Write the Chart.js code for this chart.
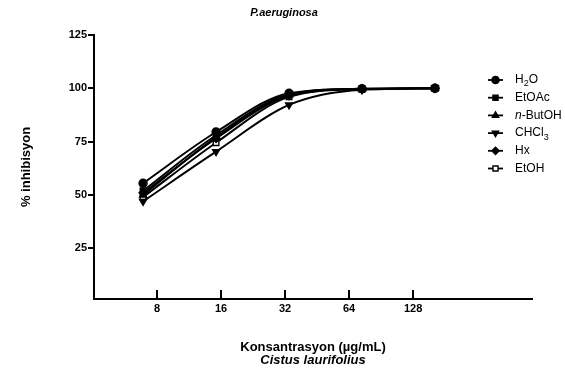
<!DOCTYPE html>
<html>
<head>
<meta charset="utf-8">
<script src="https://cdn.jsdelivr.net/npm/chart.js@4/dist/chart.umd.min.js"></script>
<style>
  html, body { margin: 0; padding: 0; background: #fff; }
  #wrap { width: 565px; height: 371px; }
</style>
</head>
<body>
<div id="wrap"><canvas id="chart" width="565" height="371"></canvas></div>
<script>
// concentrations (µg/mL) and % inhibition
const concentrations = [8, 16, 32, 64, 128];
const xTickValues = [8, 16, 32, 64, 128];
const yTickValues = [25, 50, 75, 100, 125];

const h2o    = [55.5, 79.5, 97.7, 99.8, 100];
const etoac  = [52.0, 78.0, 97.2, 99.8, 100];
const nbutoh = [50.0, 77.0, 96.8, 99.7, 100];
const chcl3  = [47.0, 70.3, 92.2, 99.3, 100];
const hx     = [51.0, 76.5, 96.5, 99.7, 100];
const etoh   = [49.0, 74.5, 96.0, 99.6, 100];

// '_' = next char subscript, '*...*' = italic
const seriesLabels = ['H_2O', 'EtOAc', '*n*-ButOH', 'CHCl_3', 'Hx', 'EtOH'];

const chartTitle = 'P.aeruginosa';
const yTitle = '% inhibisyon';
const xTitle = 'Konsantrasyon (µg/mL)';
const xSubTitle = 'Cistus laurifolius';

const FONT = '"Liberation Sans", Arial, sans-serif';
Chart.defaults.font.family = FONT;
Chart.defaults.color = '#000';

const MARKERS = [
  { style: 'circle', rot: 0, fill: '#000' },
  { style: 'rect', rot: 0, fill: '#000' },
  { style: 'triangle', rot: 0, fill: '#000' },
  { style: 'triangle', rot: 180, fill: '#000' },
  { style: 'rectRot', rot: 0, fill: '#000' },
  { style: 'rect', rot: 0, fill: '#fff' },
];

const seriesData = [h2o, etoac, nbutoh, chcl3, hx, etoh];

const datasets = seriesData.map((vals, i) => ({
  label: seriesLabels[i],
  data: vals.map((v, j) => ({ x: concentrations[j], y: v })),
  xAxisID: 'xd',
  borderColor: '#000',
  borderWidth: 1.9,
  pointStyle: MARKERS[i].style,
  pointRotation: MARKERS[i].rot,
  pointBackgroundColor: MARKERS[i].fill,
  pointBorderColor: '#000',
  pointBorderWidth: 1.4,
  pointRadius: 4,
  cubicInterpolationMode: 'monotone',
  fill: false,
}));

function parseLabel(s) {
  const segs = [];
  let italic = false;
  for (let i = 0; i < s.length; i++) {
    const c = s[i];
    if (c === '*') { italic = !italic; continue; }
    if (c === '_') { segs.push({ t: s[i + 1], sub: true, italic }); i++; continue; }
    segs.push({ t: c, sub: false, italic });
  }
  return segs;
}

function drawMarker(ctx, m, x, y) {
  if (Chart.helpers && Chart.helpers.drawPoint) {
    ctx.fillStyle = m.fill;
    ctx.strokeStyle = '#000';
    ctx.lineWidth = 1.4;
    Chart.helpers.drawPoint(ctx, { pointStyle: m.style, rotation: m.rot, radius: 3.6, borderWidth: 1.4 }, x, y);
  }
}

const textPlugin = {
  id: 'texts',
  afterDraw(chart) {
    const ctx = chart.ctx;
    const area = chart.chartArea;
    ctx.save();
    ctx.fillStyle = '#000';

    // x axis ticks pointing up
    const xs = chart.scales.x;
    ctx.strokeStyle = '#000';
    ctx.lineWidth = 2;
    xTickValues.forEach(v => {
      const px = Math.round(xs.getPixelForValue(v));
      ctx.beginPath();
      ctx.moveTo(px, area.bottom);
      ctx.lineTo(px, area.bottom - 9);
      ctx.stroke();
    });

    // title
    ctx.textAlign = 'center';
    ctx.textBaseline = 'middle';
    ctx.font = 'italic bold 11px ' + FONT;
    ctx.fillText(chartTitle, 284, 13);

    // x titles
    const cx = (area.left + area.right) / 2;
    ctx.font = 'bold 13px ' + FONT;
    ctx.fillText(xTitle, cx, 347);
    ctx.font = 'italic bold 13px ' + FONT;
    ctx.fillText(xSubTitle, cx, 360);

    // y title
    ctx.save();
    ctx.translate(26, (area.top + area.bottom) / 2);
    ctx.rotate(-Math.PI / 2);
    ctx.font = 'bold 13px ' + FONT;
    ctx.fillText(yTitle, 0, 0);
    ctx.restore();

    // legend
    seriesLabels.forEach((lab, i) => {
      const y = 80 + i * 17.7;
      ctx.strokeStyle = '#000';
      ctx.lineWidth = 1.8;
      ctx.beginPath();
      ctx.moveTo(488, y);
      ctx.lineTo(503, y);
      ctx.stroke();
      drawMarker(ctx, MARKERS[i], 495.5, y);
      let tx = 515;
      ctx.textAlign = 'left';
      ctx.fillStyle = '#000';
      parseLabel(lab).forEach(sg => {
        const size = sg.sub ? 9 : 12;
        ctx.font = (sg.italic ? 'italic ' : '') + size + 'px ' + FONT;
        ctx.fillText(sg.t, tx, sg.sub ? y + 4 : y);
        tx += ctx.measureText(sg.t).width;
      });
    });
    ctx.restore();
  }
};

new Chart(document.getElementById('chart'), {
  type: 'line',
  data: { datasets },
  options: {
    responsive: false,
    animation: false,
    layout: { padding: { top: 35, right: 33, left: 0, bottom: 0 } },
    plugins: { legend: { display: false }, title: { display: false }, tooltip: { enabled: false } },
    scales: {
      x: {
        type: 'logarithmic',
        position: 'bottom',
        min: 4.04,
        max: 464,
        afterBuildTicks: s => { s.ticks = xTickValues.map(v => ({ value: v })); },
        afterFit: s => { s.height = 72; },
        ticks: { font: { size: 11, weight: 'bold' }, color: '#000', padding: 3, maxRotation: 0, autoSkip: false, callback: v => String(v) },
        grid: { display: false, drawTicks: false },
        border: { color: '#000', width: 2 },
      },
      xd: {
        type: 'logarithmic',
        display: false,
        min: 5.02,
        max: 321.6,
      },
      y: {
        min: 1.2,
        max: 125,
        afterBuildTicks: s => { s.ticks = yTickValues.map(v => ({ value: v })); },
        afterFit: s => { s.width = 94; },
        ticks: { font: { size: 11, weight: 'bold' }, color: '#000', padding: 1 },
        grid: { drawOnChartArea: false, tickLength: 6, color: '#000', lineWidth: 2 },
        border: { color: '#000', width: 2 },
      },
    },
  },
  plugins: [textPlugin],
});
</script>
</body>
</html>
